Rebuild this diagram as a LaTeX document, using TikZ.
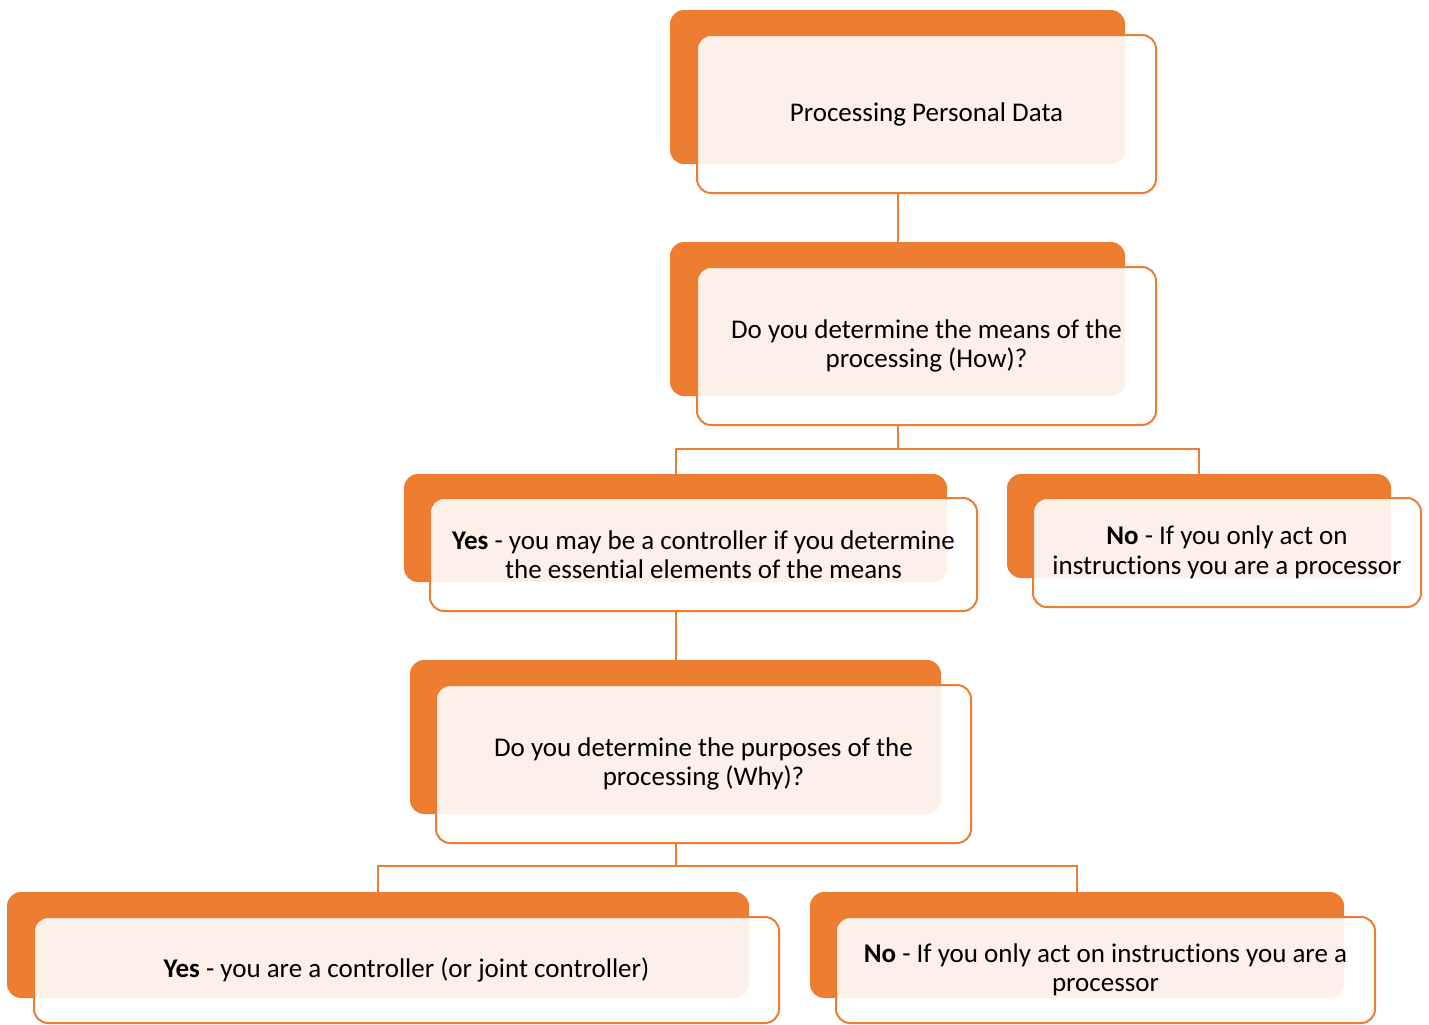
\documentclass[tikz,border=0pt]{standalone}
\usepackage{fontspec}
\setmainfont{Carlito}[Ligatures=NoCommon]
\usepackage{xcolor}
\usepackage{tikz}
\definecolor{accent}{HTML}{ED7D31}
\definecolor{tint}{HTML}{FDF0E9}

\begin{document}
\begin{tikzpicture}[x=0.5pt, y=-0.5pt, font=\fontsize{13.5}{14.75}\selectfont]
\tikzset{
  back/.style={fill=accent, rounded corners=7pt, inner sep=0pt, outer sep=0pt},
  front/.style={draw=accent, line width=1pt, fill=white, rounded corners=7pt, align=center, inner sep=0pt, outer sep=0pt,
    path picture={\fill[tint, rounded corners=7pt] (#1.south west) rectangle (#1.north east);}},
  link/.style={draw=accent, line width=1pt},
}
\useasboundingbox (0,0) rectangle (1429,1024);
% orange backs
\node[back, minimum width=227.5pt, minimum height=77pt] (b1) at (897.5,87) {};
\node[back, minimum width=227.5pt, minimum height=77pt] (b2) at (897.5,319) {};
\node[back, minimum width=271.5pt, minimum height=54pt] (b3) at (675.5,528) {};
\node[back, minimum width=192pt, minimum height=52pt] (b4) at (1199,526) {};
\node[back, minimum width=265.5pt, minimum height=77pt] (b5) at (675.5,737) {};
\node[back, minimum width=371pt, minimum height=53pt] (b6) at (378,945) {};
\node[back, minimum width=267pt, minimum height=53pt] (b7) at (1077,945) {};
% connectors
\path (b2.south) ++(0,53) coordinate (j1);
\path (b5.south) ++(0,52) coordinate (j2);
\draw[link] (b1.south) -- (b2.north);
\draw[link] (b2.south) -- (j1) -| (b3.north);
\draw[link] (j1) -| (b4.north);
\draw[link] (b3.south) -- (b5.north);
\draw[link] (b5.south) -- (j2) -| (b6.north);
\draw[link] (j2) -| (b7.north);
% text boxes
\node[front=b1, minimum width=229.5pt, minimum height=79pt] (f1) at (926.5,114) {Processing Personal Data};
\node[front=b2, minimum width=229.5pt, minimum height=79pt] (f2) at (926.5,346) {Do you determine the means of the\\processing (How)?};
\node[front=b3, minimum width=273.5pt, minimum height=56.5pt] (f3) at (703.5,554.5) {\textbf{Yes} - you may be a controller if you determine\\the essential elements of the means};
\node[front=b4, minimum width=194pt, minimum height=54.5pt] (f4) at (1227,552.5) {\textbf{No} - If you only act on\\instructions you are a processor};
\node[front=b5, minimum width=267.5pt, minimum height=79pt] (f5) at (703.5,764) {Do you determine the purposes of the\\processing (Why)?};
\node[front=b6, minimum width=372.5pt, minimum height=53pt] (f6) at (406.5,970) {\textbf{Yes} - you are a controller (or joint controller)};
\node[front=b7, minimum width=269.5pt, minimum height=53pt] (f7) at (1105.5,970) {\textbf{No} - If you only act on instructions you are a\\processor};
\end{tikzpicture}
\end{document}
